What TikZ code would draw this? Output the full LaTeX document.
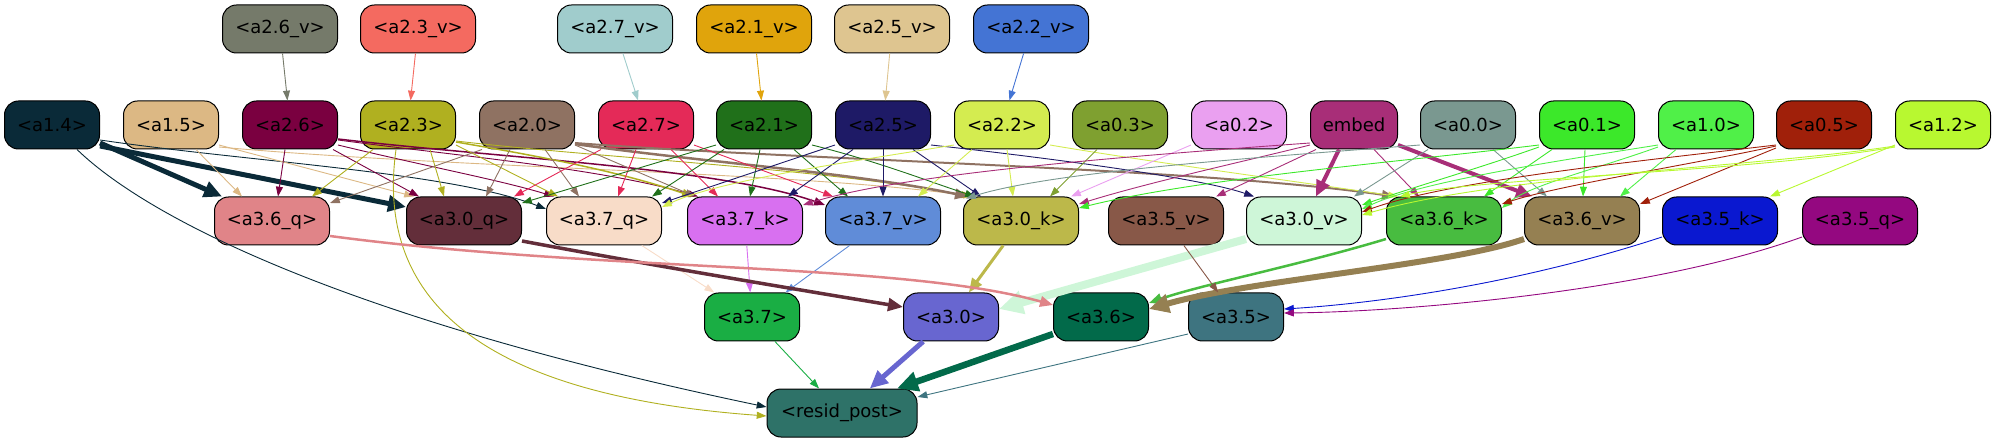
\documentclass[tikz,border=0pt]{standalone}
\usepackage{fontspec}
\setmainfont{DejaVu Sans}
\usetikzlibrary{arrows.meta}
\definecolor{c14}{HTML}{0A2A38}\definecolor{c15}{HTML}{DCB884}\definecolor{c26}{HTML}{7A0040}
\definecolor{c23}{HTML}{B0B020}\definecolor{c20}{HTML}{8F7262}\definecolor{c27}{HTML}{E42A58}
\definecolor{c21}{HTML}{20701A}\definecolor{c25}{HTML}{1E1A66}\definecolor{c22}{HTML}{D4EC50}
\definecolor{c03}{HTML}{7FA030}\definecolor{c02}{HTML}{EAA0F0}\definecolor{cem}{HTML}{A82E78}
\definecolor{c00}{HTML}{7A9890}\definecolor{c01}{HTML}{3CE82A}\definecolor{c10}{HTML}{50F048}
\definecolor{c05}{HTML}{A0200A}\definecolor{c12}{HTML}{B8F830}
\definecolor{c26v}{HTML}{757A6A}\definecolor{c23v}{HTML}{F46A60}\definecolor{c27v}{HTML}{A0CCCC}
\definecolor{c21v}{HTML}{E0A40C}\definecolor{c25v}{HTML}{DEC590}\definecolor{c22v}{HTML}{4474D4}
\definecolor{c36q}{HTML}{E08488}\definecolor{c30q}{HTML}{632E3A}\definecolor{c37q}{HTML}{F8DCC8}
\definecolor{c37k}{HTML}{D870F0}\definecolor{c37v}{HTML}{608CD8}\definecolor{c30k}{HTML}{BCB84A}
\definecolor{c35v}{HTML}{885848}\definecolor{c30v}{HTML}{CEF6D8}\definecolor{c36k}{HTML}{48BC40}
\definecolor{c36v}{HTML}{958052}\definecolor{c35k}{HTML}{0A18D0}\definecolor{c35q}{HTML}{940880}
\definecolor{c37}{HTML}{1AAE44}\definecolor{c30}{HTML}{6866D0}\definecolor{c36}{HTML}{026A4A}
\definecolor{c35}{HTML}{3E7480}\definecolor{cres}{HTML}{2E7268}
\tikzset{
 box/.style={draw=black, line width=1pt, rounded corners=14pt, minimum height=48pt, inner sep=0pt,
   font=\fontsize{18}{21}\selectfont, text=black},
 wa/.style={minimum width=115pt}, wb/.style={minimum width=95pt},
 e/.style={line width=0.9pt, -{Triangle[length=8pt 2, width=5pt 2.2]}},
}
\begin{document}
\begin{tikzpicture}[x=1pt,y=-1pt]
\useasboundingbox (0,0) rectangle (1996,443);
% top row
\node[box,wa,fill=c26v] (a26v) at (280,29) {<a2.6\_v>};
\node[box,wa,fill=c23v] (a23v) at (418,29) {<a2.3\_v>};
\node[box,wa,fill=c27v] (a27v) at (615,29) {<a2.7\_v>};
\node[box,wa,fill=c21v] (a21v) at (754,29) {<a2.1\_v>};
\node[box,wa,fill=c25v] (a25v) at (892,29) {<a2.5\_v>};
\node[box,wa,fill=c22v] (a22v) at (1031,29) {<a2.2\_v>};
% row 2
\node[box,wb,fill=c14] (a14) at (52,125) {<a1.4>};
\node[box,wb,fill=c15] (a15) at (171,125) {<a1.5>};
\node[box,wb,fill=c26] (a26) at (290,125) {<a2.6>};
\node[box,wb,fill=c23] (a23) at (408,125) {<a2.3>};
\node[box,wb,fill=c20] (a20) at (527,125) {<a2.0>};
\node[box,wb,fill=c27] (a27) at (646,125) {<a2.7>};
\node[box,wb,fill=c21] (a21) at (764,125) {<a2.1>};
\node[box,wb,fill=c25] (a25) at (883,125) {<a2.5>};
\node[box,wb,fill=c22] (a22) at (1002,125) {<a2.2>};
\node[box,wb,fill=c03] (a03) at (1120,125) {<a0.3>};
\node[box,wb,fill=c02] (a02) at (1239,125) {<a0.2>};
\node[box,minimum width=87pt,fill=cem] (embed) at (1354,125) {embed};
\node[box,wb,fill=c00] (a00) at (1468,125) {<a0.0>};
\node[box,wb,fill=c01] (a01) at (1587,125) {<a0.1>};
\node[box,wb,fill=c10] (a10) at (1706,125) {<a1.0>};
\node[box,wb,fill=c05] (a05) at (1824,125) {<a0.5>};
\node[box,wb,fill=c12] (a12) at (1943,125) {<a1.2>};
% row 3
\node[box,wa,fill=c36q] (a36q) at (272,221) {<a3.6\_q>};
\node[box,wa,fill=c30q] (a30q) at (464,221) {<a3.0\_q>};
\node[box,wa,fill=c37q] (a37q) at (604,221) {<a3.7\_q>};
\node[box,wa,fill=c37k] (a37k) at (745,221) {<a3.7\_k>};
\node[box,wa,fill=c37v] (a37v) at (883,221) {<a3.7\_v>};
\node[box,wa,fill=c30k] (a30k) at (1021,221) {<a3.0\_k>};
\node[box,wa,fill=c35v] (a35v) at (1166,221) {<a3.5\_v>};
\node[box,wa,fill=c30v] (a30v) at (1304,221) {<a3.0\_v>};
\node[box,wa,fill=c36k] (a36k) at (1444,221) {<a3.6\_k>};
\node[box,wa,fill=c36v] (a36v) at (1582,221) {<a3.6\_v>};
\node[box,wa,fill=c35k] (a35k) at (1720,221) {<a3.5\_k>};
\node[box,wa,fill=c35q] (a35q) at (1860,221) {<a3.5\_q>};
% row 4
\node[box,wb,fill=c37] (a37) at (752,317) {<a3.7>};
\node[box,wb,fill=c30] (a30) at (951,317) {<a3.0>};
\node[box,wb,fill=c36] (a36) at (1101,317) {<a3.6>};
\node[box,wb,fill=c35] (a35) at (1236,317) {<a3.5>};
\node[box,minimum width=150pt,fill=cres] (resid) at (842,413) {<resid\_post>};

% top -> row 2
\draw[e,c26v] (a26v) -- (a26);
\draw[e,c23v] (a23v) -- (a23);
\draw[e,c27v] (a27v) -- (a27);
\draw[e,c21v] (a21v) -- (a21);
\draw[e,c25v] (a25v) -- (a25);
\draw[e,c22v] (a22v) -- (a22);

% a1.4
\draw[e,c14,line width=5pt] ([yshift=-18pt]a14.east) -- ([xshift=-50pt]a36q.north);
\draw[e,c14,line width=5pt] ([yshift=-21pt]a14.east) -- ([yshift=14pt]a30q.west);
\draw[e,c14] ([yshift=-15pt]a14.east) .. controls (250,162) and (450,172) .. ([yshift=12pt]a37q.west);
\draw[e,c14] ([xshift=25pt]a14.south) .. controls (150,220) and (350,320) .. ([yshift=6pt]resid.west);
% a1.5
\draw[e,c15] ([xshift=25pt]a15.south) -- ([xshift=-30pt]a36q.north);
\draw[e,c15] ([yshift=-20pt]a15.east) -- ([xshift=-50pt]a30q.north);
\draw[e,c15] ([yshift=-22pt]a15.east) .. controls (450,168) and (800,172) .. ([xshift=-48pt]a30k.north);
% a2.6
\draw[e,c26] ([xshift=-5pt]a26.south) -- ([xshift=6pt]a36q.north);
\draw[e,c26] ([xshift=43pt]a26.south) -- ([xshift=-45pt]a30q.north);
\draw[e,c26] ([yshift=-20pt]a26.east) .. controls (420,165) and (500,180) .. ([xshift=-50pt]a37q.north);
\draw[e,c26] ([yshift=-15pt]a26.east) .. controls (450,155) and (600,168) .. ([xshift=-47pt]a37k.north);
\draw[e,c26,line width=1.5pt] ([yshift=-14pt]a26.east) .. controls (500,158) and (720,168) .. ([yshift=16pt]a37v.west);
% a2.3
\draw[e,c23] ([xshift=-35pt]a23.south) -- ([xshift=40pt]a36q.north);
\draw[e,c23] ([xshift=22pt]a23.south) -- ([xshift=-20pt]a30q.north);
\draw[e,c23] ([yshift=-20pt]a23.east) -- ([xshift=-46pt]a37q.north);
\draw[e,c23,line width=1.5pt] ([yshift=-17pt]a23.east) .. controls (550,158) and (620,172) .. ([xshift=-52pt]a37k.north);
\draw[e,c23] ([yshift=-16pt]a23.east) .. controls (600,158) and (820,168) .. ([xshift=-50pt]a30k.north);
\draw[e,c23] ([xshift=-12pt]a23.south) .. controls (375,300) and (480,395) .. ([yshift=-3pt]resid.west);
% a2.0
\draw[e,c20] ([xshift=-45pt]a20.south) -- ([yshift=18pt]a36q.east);
\draw[e,c20] ([xshift=-17pt]a20.south) -- ([xshift=22pt]a30q.north);
\draw[e,c20] ([xshift=18pt]a20.south) -- ([xshift=-25pt]a37q.north);
\draw[e,c20] ([yshift=-20pt]a20.east) -- ([xshift=-50pt]a37k.north);
\draw[e,c20,line width=2.5pt] ([yshift=-19pt]a20.east) .. controls (700,162) and (850,172) .. ([xshift=-53pt]a30k.north);
\draw[e,c20,line width=2pt] ([yshift=-18pt]a20.east) .. controls (800,160) and (1200,168) .. ([xshift=-50pt]a36k.north);
% a2.7
\draw[e,c27] ([xshift=-45pt]a27.south) -- ([xshift=50pt]a30q.north);
\draw[e,c27] ([xshift=-10pt]a27.south) -- ([xshift=14pt]a37q.north);
\draw[e,c27] ([xshift=25pt]a27.south) -- ([xshift=-27pt]a37k.north);
\draw[e,c27] ([yshift=-20pt]a27.east) -- ([xshift=-50pt]a37v.north);
% a2.1
\draw[e,c21] ([yshift=-20pt]a21.west) -- ([yshift=18pt]a30q.east);
\draw[e,c21] ([xshift=-40pt]a21.south) -- ([xshift=48pt]a37q.north);
\draw[e,c21] ([xshift=-4pt]a21.south) -- ([xshift=5pt]a37k.north);
\draw[e,c21] ([xshift=30pt]a21.south) -- ([xshift=-35pt]a37v.north);
\draw[e,c21] ([yshift=-20pt]a21.east) .. controls (880,162) and (930,182) .. ([xshift=-46pt]a30k.north);
% a2.5
\draw[e,c25] ([yshift=-20pt]a25.west) -- ([yshift=18pt]a37q.east);
\draw[e,c25] ([xshift=-30pt]a25.south) -- ([xshift=43pt]a37k.north);
\draw[e,c25] (a25) -- (a37v);
\draw[e,c25] ([xshift=30pt]a25.south) -- ([xshift=-40pt]a30k.north);
\draw[e,c25] ([yshift=-20pt]a25.east) .. controls (1050,158) and (1200,178) .. ([xshift=-50pt]a30v.north);
% a2.2
\draw[e,c22] ([yshift=-20pt]a22.west) .. controls (850,162) and (720,180) .. ([yshift=14pt]a37q.east);
\draw[e,c22] ([xshift=-30pt]a22.south) -- ([xshift=35pt]a37v.north);
\draw[e,c22] ([xshift=5pt]a22.south) -- ([xshift=-8pt]a30k.north);
\draw[e,c22] ([yshift=-20pt]a22.east) .. controls (1150,162) and (1300,182) .. ([xshift=-46pt]a36k.north);
% a0.3, a0.2
\draw[e,c03] ([xshift=-23pt]a03.south) -- ([xshift=29pt]a30k.north);
\draw[e,c02] ([yshift=-20pt]a02.west) -- ([xshift=50pt]a30k.north);
% embed
\draw[e,cem] ([yshift=-18pt]embed.west) .. controls (1100,158) and (900,175) .. ([yshift=16pt]a37k.east);
\draw[e,cem] ([yshift=-20pt]embed.west) .. controls (1250,160) and (1150,182) .. ([yshift=17pt]a30k.east);
\draw[e,cem] ([xshift=-38pt]embed.south) -- ([xshift=50pt]a35v.north);
\draw[e,cem,line width=4pt] ([xshift=-15pt]embed.south) -- ([xshift=12pt]a30v.north);
\draw[e,cem] ([xshift=20pt]embed.south) -- ([xshift=-25pt]a36k.north);
\draw[e,cem,line width=4pt] ([yshift=-20pt]embed.east) -- ([xshift=-50pt]a36v.north);
% a0.0
\draw[e,c00] ([yshift=-20pt]a00.west) .. controls (1250,158) and (1050,172) .. ([xshift=-55pt,yshift=-2pt]a30k.north);
\draw[e,c00] ([xshift=-40pt]a00.south) -- ([xshift=50pt]a30v.north);
\draw[e,c00] ([xshift=25pt]a00.south) -- ([xshift=-35pt]a36v.north);
% a0.1
\draw[e,c01] ([yshift=-20pt]a01.west) .. controls (1400,162) and (1200,178) .. ([yshift=13pt]a30k.east);
\draw[e,c01] ([yshift=-22pt]a01.west) .. controls (1480,168) and (1420,185) .. ([yshift=16pt]a30v.east);
\draw[e,c01] ([xshift=-35pt]a01.south) -- ([xshift=40pt]a36k.north);
\draw[e,c01] ([xshift=-2pt]a01.south) -- ([xshift=1pt]a36v.north);
% a1.0
\draw[e,c10] ([yshift=-20pt]a10.west) .. controls (1550,162) and (1420,182) .. ([yshift=12pt]a30v.east);
\draw[e,c10] ([yshift=-22pt]a10.west) .. controls (1600,168) and (1530,185) .. ([yshift=13pt]a36k.east);
\draw[e,c10] ([xshift=-30pt]a10.south) -- ([xshift=38pt]a36v.north);
% a0.5
\draw[e,c05] ([yshift=-20pt]a05.west) .. controls (1650,160) and (1450,180) .. ([yshift=9pt]a30v.east);
\draw[e,c05] ([yshift=-21pt]a05.west) .. controls (1700,163) and (1560,185) .. ([yshift=17pt]a36k.east);
\draw[e,c05] ([yshift=-23pt]a05.west) -- ([yshift=17pt]a36v.east);
% a1.2
\draw[e,c12] ([yshift=-20pt]a12.west) -- ([xshift=50pt]a35k.north);
\draw[e,c12] ([yshift=-21pt]a12.west) .. controls (1750,168) and (1500,175) .. ([yshift=6pt]a30v.east);
\draw[e,c12] ([yshift=-22pt]a12.west) .. controls (1750,172) and (1480,178) .. ([xshift=-44pt]a36k.north);

% row 3 -> row 4
\draw[e,c37q] (a37q) -- (a37);
\draw[e,c37k] (a37k) -- (a37);
\draw[e,c37v] (a37v) -- (a37);
\draw[e,c30q,line width=3.5pt] ([yshift=-20pt]a30q.east) .. controls (650,265) and (800,290) .. ([yshift=10pt]a30.west);
\draw[e,c30k,line width=3pt] (a30k) -- (a30);
\draw[e,c30v,line width=8pt] ([yshift=-18pt]a30v.west) -- ([yshift=8pt]a30.east);
\draw[e,c36q,line width=2.5pt] ([yshift=-15pt]a36q.east) .. controls (600,272) and (900,262) .. ([yshift=12pt]a36.west);
\draw[e,c36k,line width=2.5pt] ([yshift=-18pt]a36k.west) .. controls (1300,265) and (1200,285) .. ([yshift=14pt]a36.east);
\draw[e,c36v,line width=6pt] ([yshift=-18pt]a36v.west) .. controls (1450,265) and (1250,280) .. ([yshift=8pt]a36.east);
\draw[e,c35v] (a35v) -- (a35);
\draw[e,c35k] ([yshift=-16pt]a35k.west) .. controls (1500,290) and (1350,305) .. ([yshift=8pt]a35.east);
\draw[e,c35q] ([yshift=-16pt]a35q.west) .. controls (1650,292) and (1400,312) .. ([yshift=4pt]a35.east);

% row 4 -> resid
\draw[e,c37] (a37) -- (resid);
\draw[e,c30,line width=5pt] (a30) -- (resid);
\draw[e,c36,line width=6.5pt] ([yshift=-17pt]a36.west) -- ([xshift=55pt]resid.north);
\draw[e,c35] ([yshift=-17pt]a35.west) -- ([yshift=16pt]resid.east);
\end{tikzpicture}
\end{document}
